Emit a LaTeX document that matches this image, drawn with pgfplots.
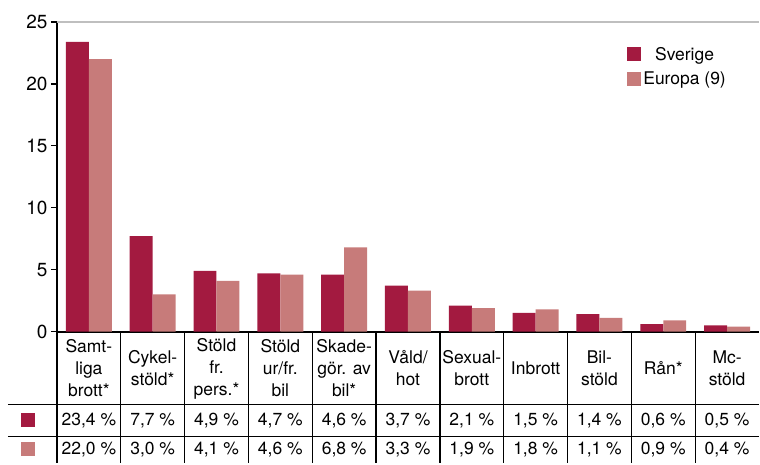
\documentclass[border=0pt]{standalone}
\usepackage{fontspec}
\setmainfont{TeX Gyre Heros}
\usepackage{pgfplots}
\pgfplotsset{compat=1.18}
\definecolor{sverige}{HTML}{A31A40}
\definecolor{europa}{HTML}{C77B7A}

\newcommand\lab{\fontsize{17.5}{22}\selectfont}

\begin{document}
\begin{tikzpicture}
\begin{axis}[
  name=ax,
  scale only axis, width=703pt, height=310pt,
  ybar=0pt, bar width=23pt,
  xmin=-0.5, xmax=10.5, ymin=0, ymax=25,
  xtick=\empty,
  ytick={0,5,...,25},
  axis x line*=bottom, axis y line*=left,
  axis line style={-, line width=2pt, black},
  ytick style={line width=1.3pt, black},
  tick align=outside, major tick length=6pt,
  yticklabel style={font=\fontsize{19}{19}\selectfont},
  /pgf/number format/assume math mode=true,
  legend style={at={(571pt,287pt)}, anchor=north west, draw=none, fill=none,
    font=\lab, row sep=6pt, inner sep=0pt},
  legend image code/.code={\fill[#1,draw=none] (0pt,-7pt) rectangle (14pt,7pt);},
  clip=false,
]
\addplot[fill=sverige, draw=none] coordinates
  {(0,23.4) (1,7.7) (2,4.9) (3,4.7) (4,4.6) (5,3.7) (6,2.1) (7,1.5) (8,1.4) (9,0.6) (10,0.5)};
\addplot[fill=europa, draw=none] coordinates
  {(0,22.0) (1,3.0) (2,4.1) (3,4.6) (4,6.8) (5,3.3) (6,1.9) (7,1.8) (8,1.1) (9,0.9) (10,0.4)};
\legend{Sverige, Europa (9)}
\end{axis}

\begin{scope}[shift={(ax.south west)}, x=1pt, y=1pt]
  % top border of the plot area
  \draw[black!25, line width=2pt] (0,310) -- (703,310);
  % table grid
  \foreach \k in {0,...,10}
    \draw[line width=1.3pt] (\k*63.909,0) -- (\k*63.909,-132);
  \draw[line width=1.3pt] (-49,-73) -- (703,-73);
  \draw[line width=1.3pt] (-49,-105) -- (703,-105);
  % legend keys in the table
  \fill[sverige] (-36,-96) rectangle (-22,-82);
  \fill[europa] (-36,-125) rectangle (-22,-111);
  % header
  \foreach \t [count=\i from 0] in {Samt-\\liga\\brott*, Cykel-\\stöld*, Stöld\\fr.\\pers.*,
      Stöld\\ur/fr.\\bil, Skade-\\gör. av\\bil*, Våld/\\hot, Sexual-\\brott, Inbrott,
      Bil-\\stöld, Rån*, Mc-\\stöld}
    \node[align=center, font=\lab, inner sep=0pt] at ({(\i+0.5)*63.909},-37) {\t};
  % values
  \foreach \v [count=\i from 0] in {{23,4}, {7,7}, {4,9}, {4,7}, {4,6}, {3,7}, {2,1}, {1,5}, {1,4}, {0,6}, {0,5}}
    \node[font=\lab, inner sep=0pt] at ({(\i+0.5)*63.909},-89) {\v\ \%};
  \foreach \v [count=\i from 0] in {{22,0}, {3,0}, {4,1}, {4,6}, {6,8}, {3,3}, {1,9}, {1,8}, {1,1}, {0,9}, {0,4}}
    \node[font=\lab, inner sep=0pt] at ({(\i+0.5)*63.909},-118) {\v\ \%};
  \path[use as bounding box] (-57,-130) rectangle (703,332);
\end{scope}
\end{tikzpicture}
\end{document}
